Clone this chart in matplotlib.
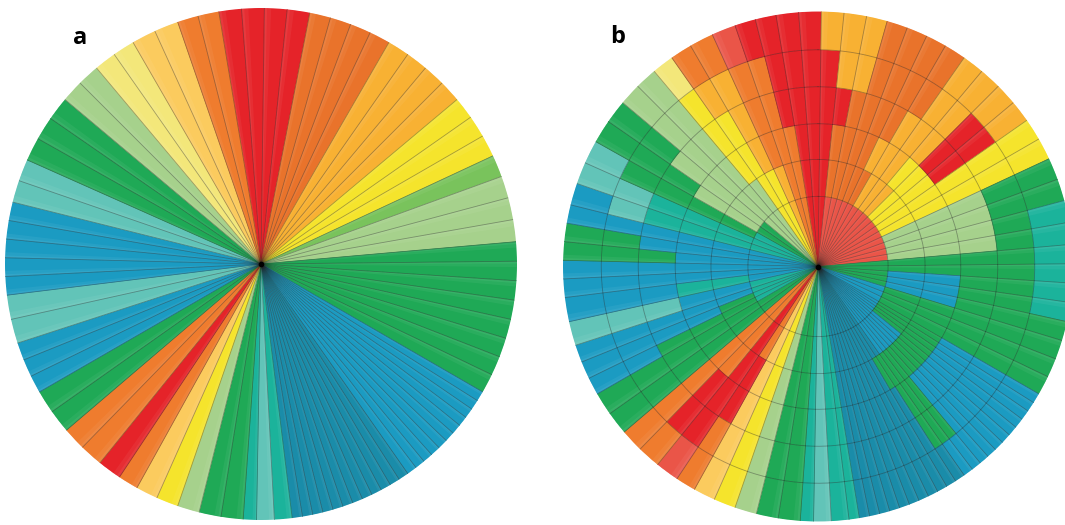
import numpy as np
import matplotlib
matplotlib.use("Agg")
import matplotlib.pyplot as plt

PAL = {
    "red": "#e52329", "salmon": "#ea5548", "orange": "#ef7c2e", "dorange": "#e9732b",
    "amber": "#f8b133", "lamber": "#fbcb5e", "yellow": "#f5e42c", "pyellow": "#f3e77a",
    "mgreen": "#79c35c", "pgreen": "#a6d18c", "green": "#1fa956", "teal": "#1bb39b",
    "lteal": "#62c4b8", "blue": "#1b9bc2", "dblue": "#1a8ca9",
}

# panel a: groups of equal wedges, degrees clockwise from 12 o'clock
A_EDGES = [-9.5, 11, 30, 50, 65, 70, 85, 120, 145, 173, 177, 181, 184, 194, 199, 204,
           209, 213.6, 219, 229.5, 240, 252, 263, 284, 294, 310, 320, 330, 341, 350.5]
A_COLORS = ["red", "dorange", "amber", "yellow", "mgreen", "pgreen", "green", "blue",
            "dblue", "teal", "lteal", "teal", "green", "pgreen", "yellow", "lamber",
            "orange", "red", "orange", "green", "blue", "lteal", "blue", "lteal", "green",
            "pgreen", "pyellow", "lamber", "orange"]
A_COUNTS = [4, 4, 4, 3, 1, 3, 8, 11, 12, 1, 1, 1, 2, 1, 1, 1, 1, 1, 2, 2, 3, 2, 5, 2,
            3, 2, 2, 2, 2]

# panel b: ring radii and colour runs per ring (inner -> outer)
RING_EDGES = [0, 0.275, 0.42, 0.56, 0.705, 0.85, 1.0]

B0_EDGES = [0, 5, 87, 108, 145, 170, 177, 181, 185, 194, 199, 204, 209, 214, 219, 230,
            240, 255, 285, 300, 310, 325, 333, 342, 350, 360]
B0_COLORS = ["red", "salmon", "green", "blue", "dblue", "teal", "lteal", "teal", "green",
             "pgreen", "yellow", "lamber", "orange", "red", "orange", "green", "teal",
             "blue", "teal", "green", "pgreen", "yellow", "amber", "orange", "red"]

B1_EDGES = [0, 5, 30, 45, 65, 87, 93, 106, 130, 145, 170, 177, 181, 185, 194, 199, 204,
            209, 214, 219, 232, 248, 256, 262, 285, 296, 302, 326, 333, 342, 350, 360]
B1_COLORS = ["red", "dorange", "amber", "yellow", "pgreen", "green", "blue", "green",
             "blue", "dblue", "teal", "lteal", "teal", "green", "pgreen", "yellow",
             "lamber", "orange", "red", "orange", "green", "blue", "teal", "blue", "teal",
             "green", "pgreen", "yellow", "amber", "orange", "red"]

B2_EDGES = [0, 5, 25, 42, 65, 87, 93, 108, 150, 170, 177, 181, 185, 194, 199, 204, 210,
            219, 230, 245, 255, 262, 282, 294, 300, 318, 328, 335, 350, 360]
B2_COLORS = ["red", "dorange", "amber", "yellow", "pgreen", "green", "blue", "green",
             "dblue", "teal", "lteal", "teal", "green", "pgreen", "yellow", "lamber",
             "red", "orange", "green", "blue", "teal", "blue", "teal", "green", "pgreen",
             "yellow", "amber", "orange", "red"]

B3_EDGES = [0, 10, 30, 45, 55, 66, 86, 118, 140, 148, 170, 177, 181, 185, 194, 199, 204,
            209, 225, 232, 245, 252, 260, 270, 276, 282, 294, 305, 322, 330, 338, 345, 360]
B3_COLORS = ["red", "dorange", "amber", "red", "yellow", "pgreen", "green", "blue",
             "green", "dblue", "teal", "lteal", "teal", "green", "pgreen", "yellow",
             "lamber", "red", "orange", "green", "blue", "lteal", "blue", "green", "blue",
             "teal", "green", "pgreen", "yellow", "amber", "orange", "red"]

B4_EDGES = [0, 5, 15, 33, 45, 55, 66, 118, 140, 148, 170, 177, 181, 185, 194, 199, 204,
            209, 214, 225, 230, 240, 252, 260, 270, 281, 286, 294, 312, 320, 326, 335,
            345, 360]
B4_COLORS = ["red", "amber", "dorange", "amber", "red", "yellow", "green", "blue",
             "green", "dblue", "teal", "lteal", "teal", "green", "pgreen", "yellow",
             "lamber", "orange", "red", "orange", "green", "blue", "lteal", "blue",
             "green", "blue", "lteal", "green", "pgreen", "yellow", "amber", "orange",
             "red"]

B5_EDGES = [0, 17, 33, 53, 66, 73, 103, 119, 145, 170, 177, 181, 185, 194, 199, 204, 209,
            214, 219, 230, 240, 252, 260, 270, 281, 287, 298, 312, 318, 325, 336, 340, 360]
B5_COLORS = ["amber", "dorange", "amber", "yellow", "green", "teal", "green", "blue",
             "dblue", "teal", "lteal", "teal", "green", "pgreen", "yellow", "lamber",
             "orange", "salmon", "orange", "green", "blue", "lteal", "blue", "green",
             "blue", "lteal", "green", "pgreen", "pyellow", "orange", "salmon", "red"]

B_RINGS = [(B0_EDGES, B0_COLORS), (B1_EDGES, B1_COLORS), (B2_EDGES, B2_COLORS),
           (B3_EDGES, B3_COLORS), (B4_EDGES, B4_COLORS), (B5_EDGES, B5_COLORS)]

LINE = (0.12, 0.12, 0.12, 0.38)


def wedge_layout():
    """Wedge edges (deg) and panel-a colour of every wedge"""
    edges, cols = [], []
    for lo, hi, n, c in zip(A_EDGES[:-1], A_EDGES[1:], A_COUNTS, A_COLORS):
        edges.extend(np.linspace(lo, hi, n + 1)[:-1])
        cols.extend([c] * n)
    edges.append(A_EDGES[-1])
    return np.array(edges), cols


def polar_axes(fig, rect):
    ax = fig.add_axes(rect, projection="polar")
    ax.set_theta_zero_location("N")
    ax.set_theta_direction(-1)
    ax.set_ylim(0, 1)
    ax.set_axis_off()
    return ax


def cell(ax, lo, hi, r0, r1, color):
    th0, th1 = np.radians(lo), np.radians(hi)
    ax.bar((th0 + th1) / 2, r1 - r0, width=th1 - th0, bottom=r0, color=color,
           edgecolor=color, linewidth=0.4, align="center")
    # soft highlight on the leading side of the wedge (two steps, fading)
    for frac, alpha in ((0.3, 0.05), (0.12, 0.06)):
        w = (th1 - th0) * frac
        ax.bar(th0 + w / 2, r1 - r0, width=w, bottom=r0, color="white", alpha=alpha,
               linewidth=0, align="center")


def grid_lines(ax, edges, rings):
    for e in edges[:-1]:
        t = np.radians(e)
        ax.plot([t, t], [0, 1], color=LINE, lw=0.6)
    t = np.linspace(0, 2 * np.pi, 500)
    for r in rings:
        ax.plot(t, np.full_like(t, r), color=LINE, lw=0.6)
    ax.plot(0, 0, "o", color="black", ms=3)


def main():
    edges, a_cols = wedge_layout()
    fig = plt.figure(figsize=(10.65, 5.25), dpi=100)

    ax_a = polar_axes(fig, [5 / 1065, 5 / 525, 512 / 1065, 512 / 525])
    for lo, hi, c in zip(edges[:-1], edges[1:], a_cols):
        cell(ax_a, lo, hi, 0, 1, PAL[c])
    grid_lines(ax_a, edges, [])

    ax_b = polar_axes(fig, [563 / 1065, 3.5 / 525, 510 / 1065, 510 / 525])
    for k, (r_edges, r_cols) in enumerate(B_RINGS):
        r0, r1 = RING_EDGES[k], RING_EDGES[k + 1]
        for lo, hi in zip(edges[:-1], edges[1:]):
            mid = ((lo + hi) / 2) % 360
            idx = np.searchsorted(r_edges, mid, side="right") - 1
            cell(ax_b, lo, hi, r0, r1, PAL[r_cols[idx]])
    grid_lines(ax_b, edges, RING_EDGES[1:-1])

    fig.text(80 / 1065, 1 - 38 / 525, "a", fontsize=17, fontweight="bold",
             family="Open Sans", ha="center", va="center")
    fig.text(618 / 1065, 1 - 37 / 525, "b", fontsize=17, fontweight="bold",
             family="Open Sans", ha="center", va="center")

    fig.savefig("out.png", dpi=100)


if __name__ == "__main__":
    main()
